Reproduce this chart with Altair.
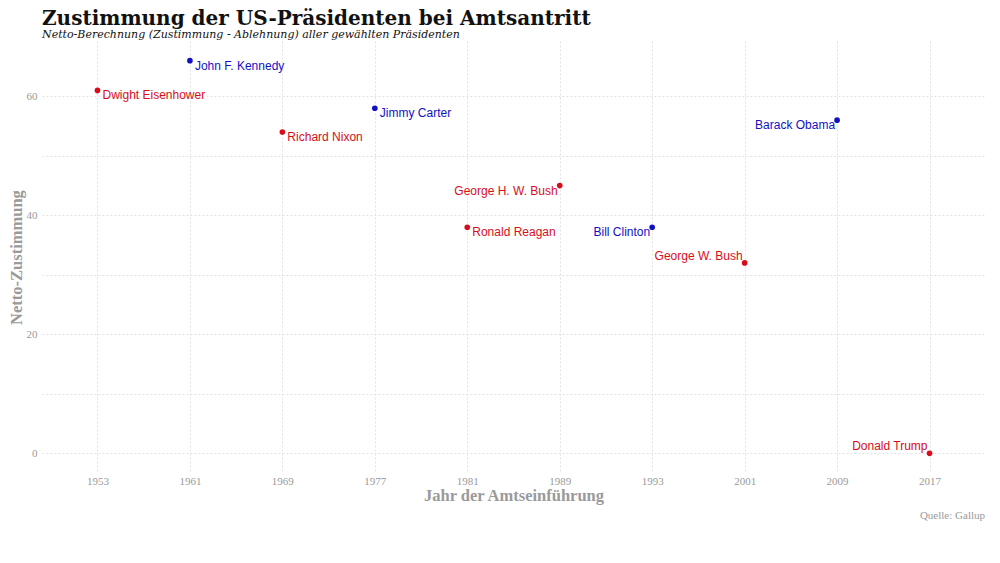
import altair as alt
import pandas as pd

names = ["Dwight Eisenhower", "John F. Kennedy", "Richard Nixon", "Jimmy Carter",
         "Ronald Reagan", "George H. W. Bush", "Bill Clinton", "George W. Bush",
         "Barack Obama", "Donald Trump"]
years = ["1953", "1961", "1969", "1977", "1981", "1989", "1993", "2001", "2009", "2017"]
approval = [61, 66, 54, 58, 38, 45, 38, 32, 56, 0]
party = ["R", "D", "R", "D", "R", "R", "D", "R", "D", "R"]

left_below = ["George H. W. Bush", "Bill Clinton", "Barack Obama"]
left_above = ["George W. Bush", "Donald Trump"]

def place(n):
    if n in left_above:
        return "la"
    if n in left_below:
        return "lb"
    return "rb"

df = pd.DataFrame({"name": names, "year": years, "approval": approval, "party": party})
df["place"] = [place(n) for n in names]

RED = "#d80d1a"
BLUE = "#1212c2"
GRAY = "#9a9a9a"
SERIF = "Liberation Serif"
TSERIF = "DejaVu Serif"
SANS = "Liberation Sans"

W, H = 943, 432

color = alt.Color("party:N", scale=alt.Scale(domain=["R", "D"], range=[RED, BLUE]), legend=None)

x = alt.X("year:O", sort=years,
          scale=alt.Scale(type="point", padding=0.6),
          axis=alt.Axis(title="Jahr der Amtseinführung", labelAngle=0, ticks=False, domain=False,
                        grid=True, gridDash=[2, 2], gridColor="#e2e2e2",
                        labelPadding=2, titlePadding=1))
y = alt.Y("approval:Q",
          scale=alt.Scale(domain=[-3.3, 69.3], nice=False, zero=False),
          axis=alt.Axis(title="Netto-Zustimmung", values=[0, 10, 20, 30, 40, 50, 60],
                        labelExpr="datum.value % 20 == 0 ? datum.label : ''",
                        ticks=False, domain=False, grid=True, gridDash=[2, 2], gridColor="#e2e2e2",
                        labelPadding=5, titlePadding=2))

base = alt.Chart(df).encode(x=x, y=y, color=color)

points = base.mark_circle(size=32, opacity=1)

lab_r = base.transform_filter(alt.datum.place == "rb").mark_text(
    align="left", baseline="middle", dx=5, dy=5, font=SANS, fontSize=12).encode(text="name:N")
lab_lb = base.transform_filter(alt.datum.place == "lb").mark_text(
    align="right", baseline="middle", dx=-2, dy=5, font=SANS, fontSize=12).encode(text="name:N")
lab_la = base.transform_filter(alt.datum.place == "la").mark_text(
    align="right", baseline="middle", dx=-2, dy=-7, font=SANS, fontSize=12).encode(text="name:N")

caption = alt.Chart(pd.DataFrame({"t": ["Quelle: Gallup"]})).mark_text(
    align="right", baseline="middle", font=SERIF, fontSize=11, color=GRAY
).encode(x=alt.value(W), y=alt.value(H + 43), text="t:N")

chart = alt.layer(points, lab_r, lab_lb, lab_la, caption).properties(
    width=W, height=H,
    autosize=alt.AutoSizeParams(type="none"),
    padding={"left": 34, "top": 33, "right": 7, "bottom": 70},
    title=alt.TitleParams(
        text="Zustimmung der US-Präsidenten bei Amtsantritt",
        subtitle="Netto-Berechnung (Zustimmung - Ablehnung) aller gewählten Präsidenten",
        anchor="start", frame="group", font=TSERIF, fontSize=20, fontWeight="bold",
        color="#111111", subtitleFont=TSERIF, subtitleFontStyle="italic", subtitleFontSize=11,
        subtitleColor="#111111", offset=1, subtitlePadding=0)
).configure_view(stroke=None).configure_axis(
    labelFont=SERIF, labelFontSize=11, labelColor=GRAY,
    titleFont=SERIF, titleFontSize=16.5, titleFontWeight="bold", titleColor=GRAY
)

chart.save("out.html", embed_options={"renderer": "svg", "actions": False})
